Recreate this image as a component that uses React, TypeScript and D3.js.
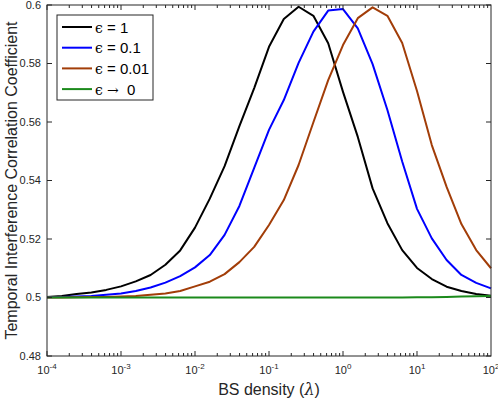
import { useEffect, useRef } from "react";
import * as d3 from "d3";

// BS density grid: 10^-4 .. 10^2, 0.2 decade steps (31 points)
const exponents = [
  -4, -3.8, -3.6, -3.4, -3.2, -3, -2.8, -2.6, -2.4, -2.2, -2, -1.8, -1.6, -1.4, -1.2, -1,
  -0.8, -0.6, -0.4, -0.2, 0, 0.2, 0.4, 0.6, 0.8, 1, 1.2, 1.4, 1.6, 1.8, 2,
];

const eps1 = [
  0.5002, 0.5005, 0.5012, 0.5017, 0.5026, 0.5038, 0.5055, 0.5077, 0.5112, 0.5161, 0.5239,
  0.5338, 0.5449, 0.5586, 0.5716, 0.5857, 0.5952, 0.5994, 0.5963, 0.5869, 0.5703, 0.5549,
  0.5373, 0.5254, 0.5162, 0.5101, 0.5063, 0.5037, 0.5022, 0.5012, 0.5006,
];

const eps01 = [
  0.5001, 0.5002, 0.5003, 0.5005, 0.5009, 0.5014, 0.5022, 0.5034, 0.5051, 0.5073, 0.5103,
  0.5145, 0.5214, 0.5313, 0.5443, 0.5573, 0.5675, 0.5802, 0.5909, 0.5981, 0.5986, 0.592,
  0.5798, 0.5641, 0.5465, 0.5303, 0.5202, 0.5128, 0.5077, 0.505, 0.5031,
];

const eps001 = [
  0.5, 0.5, 0.5001, 0.5002, 0.5002, 0.5003, 0.5005, 0.5009, 0.5014, 0.5022, 0.5038, 0.5054,
  0.508, 0.5121, 0.5173, 0.5248, 0.5333, 0.5453, 0.5599, 0.5743, 0.5863, 0.5955, 0.5992,
  0.5963, 0.587, 0.5706, 0.5521, 0.5378, 0.5251, 0.5162, 0.51,
];

const eps0 = [
  0.5, 0.5, 0.5, 0.5, 0.5, 0.5, 0.5, 0.5, 0.5, 0.5, 0.5, 0.5, 0.5, 0.5, 0.5, 0.5, 0.5, 0.5,
  0.5, 0.5, 0.5, 0.5, 0.5, 0.5, 0.5, 0.5001, 0.5001, 0.5002, 0.5003, 0.5004, 0.5005,
];

const legendEps = "\u03f5";
const legendRest = [" = 1", " = 0.1", " = 0.01", " \u2192  0"];
const seriesColors = ["#000000", "#0000ff", "#a23d08", "#1b8a1b"];
const yTicks = [0.48, 0.5, 0.52, 0.54, 0.56, 0.58, 0.6];
const xTickExps = [-4, -3, -2, -1, 0, 1, 2];

const FONT = "'Liberation Sans', Arial, Helvetica, sans-serif";
const SERIF = "'DejaVu Serif', 'Liberation Serif', serif";
const AXIS = "#262626";

export default function App() {
  const svgRef = useRef<SVGSVGElement>(null);

  useEffect(() => {
    const svg = d3.select(svgRef.current);
    svg.selectAll("*").remove();
    const width = 498;
    const height = 399;
    const margin = { top: 5, right: 7, bottom: 43, left: 47 };

    const x = d3
      .scaleLog()
      .domain([1e-4, 1e2])
      .range([margin.left, width - margin.right]);
    const y = d3
      .scaleLinear()
      .domain([0.48, 0.6])
      .range([height - margin.bottom, margin.top]);

    svg.append("rect").attr("width", width).attr("height", height).attr("fill", "#fff");

    const all = [eps1, eps01, eps001, eps0];
    const line = d3
      .line<number>()
      .x((_, i) => x(Math.pow(10, exponents[i])))
      .y((d) => y(d));

    const plot = svg.append("g");
    all.forEach((vals, si) => {
      plot
        .append("path")
        .datum(vals)
        .attr("fill", "none")
        .attr("stroke", seriesColors[si])
        .attr("stroke-width", 2)
        .attr("stroke-linejoin", "round")
        .attr("d", line);
    });

    // frame
    const x0 = margin.left;
    const x1 = width - margin.right;
    const y0 = margin.top;
    const y1 = height - margin.bottom;
    svg
      .append("rect")
      .attr("x", x0)
      .attr("y", y0)
      .attr("width", x1 - x0)
      .attr("height", y1 - y0)
      .attr("fill", "none")
      .attr("stroke", AXIS)
      .attr("stroke-width", 1);

    const ticks = svg.append("g").attr("stroke", AXIS).attr("stroke-width", 1);

    // x ticks (major + minor), bottom and top
    for (let e = -4; e < 2; e++) {
      for (let m = 1; m <= 9; m++) {
        const v = m * Math.pow(10, e);
        const len = m === 1 ? 5 : 3;
        const px = x(v);
        ticks.append("line").attr("x1", px).attr("x2", px).attr("y1", y1).attr("y2", y1 - len);
        ticks.append("line").attr("x1", px).attr("x2", px).attr("y1", y0).attr("y2", y0 + len);
      }
    }

    // y ticks, left and right
    yTicks.forEach((t) => {
      const py = y(t);
      ticks.append("line").attr("x1", x0).attr("x2", x0 + 5).attr("y1", py).attr("y2", py);
      ticks.append("line").attr("x1", x1).attr("x2", x1 - 5).attr("y1", py).attr("y2", py);
    });

    // y tick labels
    svg
      .append("g")
      .selectAll("text")
      .data(yTicks)
      .enter()
      .append("text")
      .attr("x", x0 - 6)
      .attr("y", (d) => y(d))
      .attr("dy", "0.35em")
      .attr("text-anchor", "end")
      .attr("font-family", FONT)
      .attr("font-size", 11)
      .attr("fill", AXIS)
      .text((d) => String(d));

    // x tick labels 10^e
    const xl = svg.append("g");
    xTickExps.forEach((e) => {
      const t = xl
        .append("text")
        .attr("x", x(Math.pow(10, e)))
        .attr("y", y1 + 18)
        .attr("text-anchor", "middle")
        .attr("font-family", FONT)
        .attr("font-size", 11)
        .attr("fill", AXIS);
      t.append("tspan").text("10");
      t.append("tspan").attr("dy", -5).attr("font-size", 8).text(String(e));
    });

    // axis labels
    const xlab = svg
      .append("text")
      .attr("x", (x0 + x1) / 2)
      .attr("y", 395)
      .attr("text-anchor", "middle")
      .attr("font-family", FONT)
      .attr("font-size", 16)
      .attr("fill", AXIS);
    xlab.append("tspan").text("BS density (");
    xlab.append("tspan").attr("font-style", "italic").attr("font-family", SERIF).text("\u03bb");
    xlab.append("tspan").text(")");

    svg
      .append("text")
      .attr("transform", `translate(17,${(y0 + y1) / 2}) rotate(-90)`)
      .attr("text-anchor", "middle")
      .attr("font-family", FONT)
      .attr("font-size", 16)
      .attr("fill", AXIS)
      .text("Temporal Interference Correlation Coefficient");

    // legend
    const lg = svg.append("g");
    lg.append("rect")
      .attr("x", 57)
      .attr("y", 15)
      .attr("width", 96)
      .attr("height", 85)
      .attr("fill", "#fff")
      .attr("stroke", AXIS)
      .attr("stroke-width", 1);
    legendRest.forEach((rest, i) => {
      const ly = 27 + i * 20.7;
      lg.append("line")
        .attr("x1", 62)
        .attr("x2", 92)
        .attr("y1", ly)
        .attr("y2", ly)
        .attr("stroke", seriesColors[i])
        .attr("stroke-width", 2);
      const t = lg
        .append("text")
        .attr("x", 95)
        .attr("y", ly)
        .attr("dy", "0.38em")
        .attr("font-family", FONT)
        .attr("font-size", 15)
        .attr("fill", "#000")
        .attr("xml:space", "preserve")
        .style("white-space", "pre");
      t.append("tspan").attr("font-family", SERIF).attr("font-size", 14).text(legendEps);
      if (i === 3) {
        t.append("tspan").text(" ");
        t.append("tspan").attr("font-family", SERIF).attr("font-size", 14).text("\u2192");
        t.append("tspan").text("  0");
      } else {
        t.append("tspan").text(rest);
      }
    });
  }, []);

  return (
    <svg
      ref={svgRef}
      width={498}
      height={399}
      style={{ position: "absolute", left: 0, top: 0, display: "block" }}
    />
  );
}
